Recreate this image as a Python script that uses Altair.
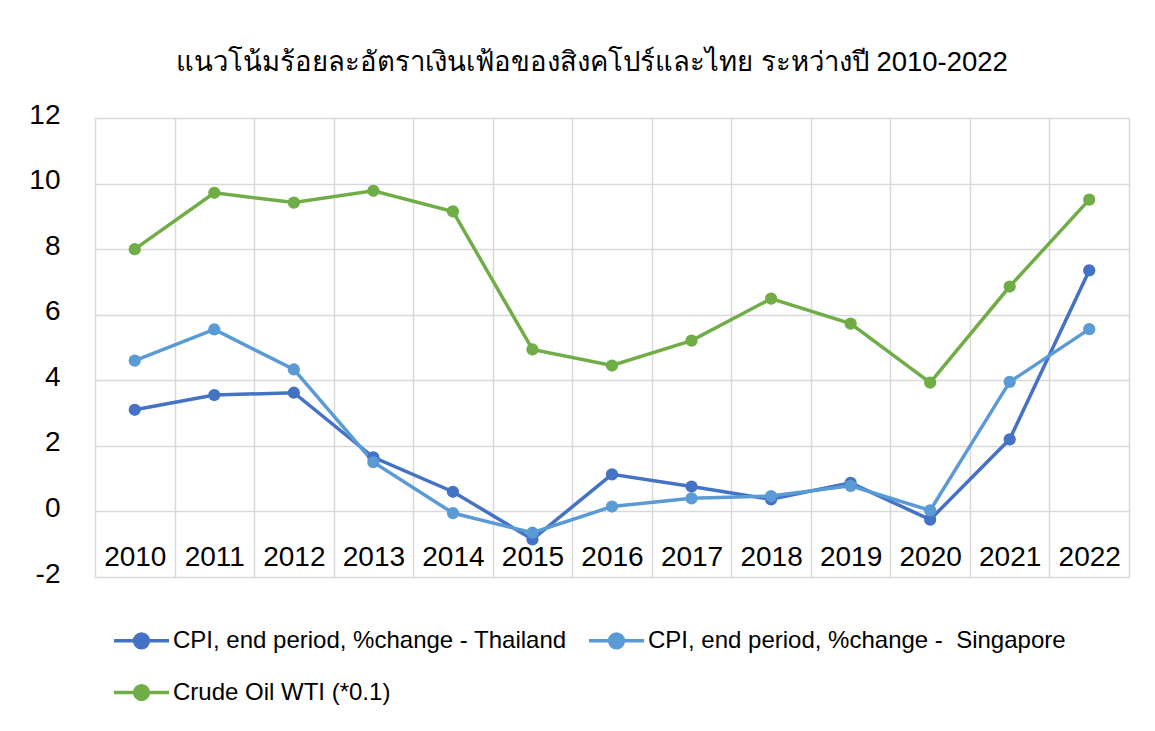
import altair as alt
import pandas as pd

years = [str(y) for y in range(2010, 2023)]
thailand = [3.1, 3.55, 3.62, 1.65, 0.6, -0.85, 1.13, 0.76, 0.37, 0.87, -0.25, 2.2, 7.35]
singapore = [4.6, 5.55, 4.33, 1.5, -0.05, -0.65, 0.15, 0.4, 0.47, 0.78, 0.03, 3.95, 5.56]
oil = [8.0, 9.72, 9.42, 9.78, 9.15, 4.94, 4.45, 5.21, 6.49, 5.73, 3.93, 6.86, 9.51]

s_th = "CPI, end period, %change - Thailand"
s_sg = "CPI, end period, %change - \u00a0Singapore"
s_oil = "Crude Oil WTI (*0.1)"
series_names = [s_th, s_sg, s_oil]
series_colors = ["#4472C4", "#5B9BD5", "#70AD47"]
y_ticks = [-2, 0, 2, 4, 6, 8, 10, 12]

rows = []
for i, (name, vals) in enumerate(zip(series_names, [thailand, singapore, oil])):
    for yr, v in zip(years, vals):
        rows.append({"year": yr, "value": v, "series": name, "order": i})
df = pd.DataFrame(rows)

FONT = "Liberation Sans"

# legend symbol: a short line with a dot (dot drawn as concentric rings)
rings = "".join(
    f"M{r},0A{r},{r},0,1,1,-{r},0A{r},{r},0,1,1,{r},0Z" for r in [0.05, 0.1, 0.15, 0.2, 0.25]
)
sym = "M-1,0L1,0" + rings

color = alt.Color(
    "series:N",
    scale=alt.Scale(domain=series_names, range=series_colors),
    sort=series_names,
    legend=alt.Legend(
        title=None,
        orient="none",
        legendX=17,
        legendY=493,
        direction="horizontal",
        columns=2,
        columnPadding=15,
        rowPadding=8,
        symbolType=sym,
        symbolSize=3025,
        symbolStrokeWidth=3.5,
        labelFontSize=24,
        labelFont=FONT,
        labelColor="#000000",
        labelOffset=2,
        labelLimit=600,
    ),
)

x = alt.X(
    "year:O",
    sort=years,
    scale=alt.Scale(type="band", paddingInner=0, paddingOuter=0),
    axis=alt.Axis(
        title=None,
        labelAngle=0,
        labelFontSize=28,
        labelFont=FONT,
        labelColor="#000000",
        labelBaseline="middle",
        labelPadding=45,
        ticks=False,
        tickSize=0,
        domain=False,
        offset=-65,
        grid=True,
        gridColor="#d9d9d9",
        gridWidth=1.5,
        tickBand="extent",
    ),
)
y = alt.Y(
    "value:Q",
    scale=alt.Scale(domain=[-2, 12], nice=False, zero=False),
    axis=alt.Axis(
        title=None,
        values=y_ticks,
        labelExpr="'' + datum.value",
        labelFontSize=28,
        labelFont=FONT,
        labelColor="#000000",
        labelPadding=35,
        labelOffset=-3,
        ticks=False,
        domain=False,
        grid=True,
        gridColor="#d9d9d9",
        gridWidth=1.5,
    ),
)

base = alt.Chart(df)
lines = base.mark_line(strokeWidth=3.5).encode(x=x, y=y, color=color, order="order:Q")
points = base.mark_circle(size=150, opacity=1).encode(
    x=x,
    y=y,
    color=alt.Color("series:N", scale=alt.Scale(domain=series_names, range=series_colors), legend=None),
)

chart = (
    alt.layer(lines, points)
    .properties(
        width=1034,
        height=459,
        autosize=alt.AutoSizeParams(type="none"),
        padding={"left": 87, "top": 110, "right": 18, "bottom": 146},
        title=alt.TitleParams(
            "แนวโน้มร้อยละอัตราเงินเฟ้อของสิงคโปร์และไทย ระหว่างปี 2010-2022",
            fontSize=27.5,
            font=FONT,
            fontWeight="normal",
            color="#000000",
            anchor="middle",
            dx=-20,
            offset=25,
        ),
    )
    .configure_view(stroke=None)
    .configure(background="white")
)

chart.save("out.html", embed_options={"renderer": "svg", "actions": False})
